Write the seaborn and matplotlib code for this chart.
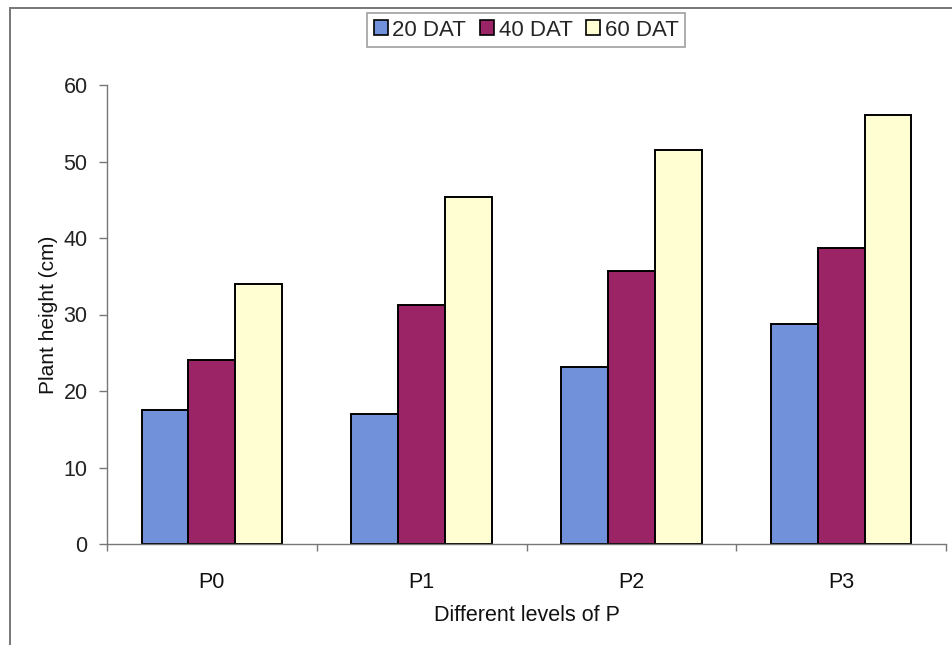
import matplotlib
matplotlib.use("Agg")
import matplotlib.pyplot as plt
from matplotlib.patches import Rectangle
import seaborn as sns
import pandas as pd

# Plant height (cm) at each phosphorus level, sampled at three dates
levels = ["P0", "P1", "P2", "P3"]
series = ["20 DAT", "40 DAT", "60 DAT"]
dat20 = [17.5, 17.0, 23.2, 28.8]
dat40 = [24.0, 31.2, 35.7, 38.7]
dat60 = [34.0, 45.3, 51.5, 56.1]
colors = ["#7191DA", "#9B2467", "#FFFDD2"]
yticks = [0, 10, 20, 30, 40, 50, 60]

df = pd.DataFrame({
    "level": levels * 3,
    "height": dat20 + dat40 + dat60,
    "series": [s for s in series for _ in levels],
})

sns.set_theme(style="white")
plt.rcParams["font.family"] = ["Liberation Sans", "DejaVu Sans"]

W, H = 952, 645
fig = plt.figure(figsize=(W / 100, H / 100), dpi=100)
ax = fig.add_axes([107 / W, 1 - 544 / H, (946 - 107) / W, (544 - 85) / H])

sns.barplot(data=df, x="level", y="height", hue="series", order=levels,
            hue_order=series, palette=colors, width=0.67, gap=0,
            edgecolor="black", linewidth=1.4, saturation=1, ax=ax,
            legend=False)

ax.set_xlim(-0.5, len(levels) - 0.5)
ax.set_ylim(0, 60)
ax.set_yticks(yticks)
ax.set_yticklabels([str(v) for v in yticks])

# category boundary ticks on the x axis, none at the labels
ax.set_xticks([i - 0.5 for i in range(len(levels) + 1)], minor=True)
ax.tick_params(axis="x", which="major", length=0, pad=20, labelsize=15.5,
               labelcolor="#111111")
ax.tick_params(axis="x", which="minor", direction="out", length=5,
               width=1, color="#777777", bottom=True)
ax.tick_params(axis="y", which="major", direction="out", length=6,
               width=1, color="#777777", left=True, pad=8, labelsize=15.5,
               labelcolor="#222222")

for side in ["top", "right"]:
    ax.spines[side].set_visible(False)
for side in ["left", "bottom"]:
    ax.spines[side].set_color("#777777")
    ax.spines[side].set_linewidth(1.0)

ax.set_xlabel("Different levels of P", fontsize=15.5, color="#111111",
              labelpad=9)
ax.set_ylabel("Plant height (cm)", fontsize=15, color="#111111",
              labelpad=4)

# legend with small square swatches across the top
handles = [Rectangle((0, 0), 1, 1, facecolor=c, edgecolor="black",
                     linewidth=1.2) for c in colors]
leg = fig.legend(handles, series, loc="center", ncol=3,
                 bbox_to_anchor=(526 / W, 1 - 30 / H),
                 bbox_transform=fig.transFigure, fontsize=16,
                 handlelength=0.65, handleheight=0.65, handletextpad=0.2,
                 columnspacing=0.6, borderpad=0.3, frameon=True,
                 fancybox=False, edgecolor="#888888")
leg.get_frame().set_linewidth(1.2)

# outer chart-area border
fig.patches.append(Rectangle((10 / W, -0.05), 1.2, 1 - 8 / H + 0.05,
                             transform=fig.transFigure, fill=False,
                             edgecolor="#777777", linewidth=1.4))

fig.savefig("out.png", dpi=100, facecolor="white")
